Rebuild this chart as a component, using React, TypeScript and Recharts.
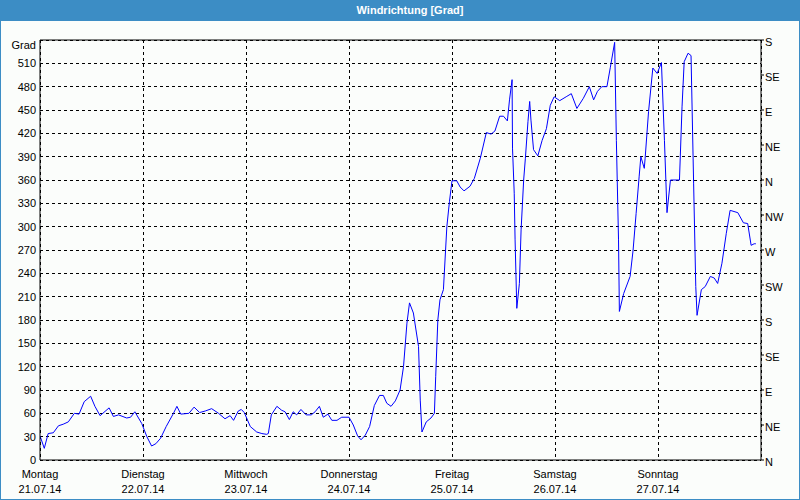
import React from 'react';
import { LineChart, Line, XAxis, YAxis, CartesianGrid, ReferenceLine } from 'recharts';

// hours since Monday 21.07.14 00:00
const hours = [
  0, 1.0, 1.9, 3.1, 4.3, 5.4, 6.6, 8.0, 9.1, 10.3, 11.8, 12.8, 14.0, 16.1, 17.1, 18.3, 20.2, 21.1, 22.1, 23.7,
  24.9, 26.0, 27.0, 28.1, 29.4, 31.1, 31.9, 32.8, 34.7, 35.9, 37.2, 38.5, 40.0, 41.6, 43.1, 44.3, 45.1, 46.2, 46.9, 47.6,
  49.0, 50.5, 51.7, 52.8, 53.2, 53.9, 55.2, 56.3, 57.1, 58.1, 59.0, 59.8, 60.8, 62.0, 63.2, 64.1, 65.1, 66.0, 67.1, 68.0,
  69.2, 70.3, 72.0, 73.0, 74.0, 74.8, 75.8, 76.8, 77.9, 79.1, 80.0, 80.8, 81.8, 82.8, 83.9, 84.7, 85.5, 86.1, 87.0, 88.2,
  88.6, 89.0, 90.0, 91.1, 91.9, 92.2, 92.7, 93.2, 94.0, 94.8, 95.4, 96.0, 97.1, 97.9, 98.8, 100.2, 101.2, 102.6, 104.0, 105.1,
  106.0, 107.1, 108.0, 108.9, 109.4, 110.0, 110.1, 110.5, 110.7, 111.1, 111.7, 112.1, 112.7, 113.1, 113.7, 114.1, 114.4, 115.0, 116.0, 117.0,
  118.0, 118.9, 119.8, 121.1, 122.6, 123.8, 125.1, 126.6, 128.0, 129.0, 129.9, 130.9, 132.1, 132.9, 133.9, 134.3, 134.8, 135.0, 136.0, 137.5,
  138.2, 138.9, 139.6, 140.0, 140.8, 141.0, 141.8, 142.8, 143.8, 144.8, 145.5, 146.1, 146.9, 149.0, 149.6, 150.1, 151.0, 151.7, 152.3, 152.8,
  153.1, 154.1, 155.0, 156.2, 157.1, 157.9, 158.9, 159.9, 160.8, 162.6, 163.9, 164.9, 165.7, 166.4, 166.8,
];

const degrees = [
  31, 15, 34, 35, 44, 46, 49, 60, 59, 75, 82, 69, 57, 67, 56, 58, 54, 55, 62, 47,
  30, 18, 21, 28, 43, 60, 69, 59, 60, 68, 61, 63, 66, 60, 53, 57, 51, 63, 65, 61,
  43, 36, 34, 33, 34, 58, 69, 64, 62, 52, 62, 58, 65, 58, 58, 62, 69, 55, 59, 51,
  51, 55, 55, 45, 31, 26, 32, 43, 70, 83, 83, 73, 69, 76, 90, 120, 176, 202, 189, 146,
  77, 36, 49, 54, 60, 107, 180, 206, 219, 300, 332, 359, 359, 351, 346, 352, 362, 388, 421, 419,
  423, 442, 442, 436, 463, 489, 401, 343, 283, 195, 227, 296, 360, 388, 435, 461, 437, 399, 391, 411,
  426, 456, 467, 462, 467, 471, 452, 465, 480, 463, 474, 480, 480, 505, 537, 411, 283, 191, 214, 236,
  270, 317, 364, 390, 375, 388, 448, 504, 497, 511, 411, 318, 360, 360, 454, 512, 523, 520, 356, 223,
  186, 219, 223, 236, 234, 227, 253, 291, 321, 318, 305, 304, 276, 278, 278,
];

const dayTicks = [0, 24, 48, 72, 96, 120, 144];
const dayNames = ['Montag', 'Dienstag', 'Mittwoch', 'Donnerstag', 'Freitag', 'Samstag', 'Sonntag'];
const dayDates = ['21.07.14', '22.07.14', '23.07.14', '24.07.14', '25.07.14', '26.07.14', '27.07.14'];
const degreeTicks = [0, 30, 60, 90, 120, 150, 180, 210, 240, 270, 300, 330, 360, 390, 420, 450, 480, 510];
const compassTicks = [0, 45, 90, 135, 180, 225, 270, 315, 360, 405, 450, 495, 540];
const compassLabels = ['N', 'NE', 'E', 'SE', 'S', 'SW', 'W', 'NW', 'N', 'NE', 'E', 'SE', 'S'];

const data = hours.map((h, i) => ({ h, v: degrees[i] }));

const FONT = '"Liberation Sans", Arial, sans-serif';

const DayTick = (props: any) => {
  const { x, payload } = props;
  const i = dayTicks.indexOf(payload.value);
  return (
    <g>
      <text x={x} y={478} textAnchor="middle" fontSize={11} fontFamily={FONT} fill="#000">
        {dayNames[i]}
      </text>
      <text x={x} y={493} textAnchor="middle" fontSize={11} fontFamily={FONT} fill="#000">
        {dayDates[i]}
      </text>
    </g>
  );
};

export default function App() {
  return (
    <div
      style={{
        position: 'absolute',
        left: 0,
        top: 0,
        width: 800,
        height: 500,
        background: '#fbfdfb',
        boxSizing: 'border-box',
        borderLeft: '1px solid #3c8dc5',
        borderRight: '1px solid #3c8dc5',
        borderBottom: '1px solid #3c8dc5',
        fontFamily: FONT,
        overflow: 'hidden',
      }}
    >
      <div
        style={{
          position: 'absolute',
          left: -1,
          top: 0,
          width: 800,
          height: 21,
          background: '#3c8dc5',
          color: '#fff',
          fontWeight: 'bold',
          fontSize: 11,
          lineHeight: '21px',
          textAlign: 'center',
          paddingLeft: 20,
          boxSizing: 'border-box',
        }}
      >
        Windrichtung [Grad]
      </div>
      <div
        style={{
          position: 'absolute',
          left: 0,
          top: 39,
          width: 35,
          textAlign: 'right',
          fontSize: 11,
          color: '#000',
        }}
      >
        Grad
      </div>
      <div style={{ position: 'absolute', left: -1, top: 0 }}>
        <LineChart width={800} height={500} data={data} margin={{ top: 40, right: 0, bottom: 0, left: 0 }}>
          <CartesianGrid
            yAxisId="left"
            stroke="#000"
            strokeDasharray="3 3"
            shapeRendering="crispEdges"
          />
          <XAxis
            dataKey="h"
            type="number"
            domain={[0, 168]}
            ticks={dayTicks}
            interval={0}
            height={40}
            axisLine={{ stroke: '#000' }}
            tickLine={false}
            tick={<DayTick />}
            allowDataOverflow
          />
          <YAxis
            yAxisId="left"
            orientation="left"
            width={40}
            domain={[0, 540]}
            ticks={degreeTicks}
            interval={0}
            axisLine={{ stroke: '#000' }}
            tickLine={false}
            tickSize={4}
            tickMargin={0}
            tick={{ fontSize: 11, fill: '#000', fontFamily: FONT }}
            allowDataOverflow
          />
          <YAxis
            yAxisId="right"
            orientation="right"
            width={39}
            domain={[0, 540]}
            ticks={compassTicks}
            interval={0}
            axisLine={{ stroke: '#000' }}
            tickLine={{ stroke: '#000' }}
            tickSize={3}
            tickMargin={1}
            tickFormatter={(v: number) => compassLabels[Math.round(v / 45)]}
            tick={{ fontSize: 11, fill: '#000', fontFamily: FONT, textAnchor: 'start', dy: 2 }}
            allowDataOverflow
          />
          <ReferenceLine yAxisId="left" y={540} stroke="#000" ifOverflow="visible" />
          <Line
            yAxisId="left"
            type="linear"
            dataKey="v"
            stroke="#0000ff"
            strokeWidth={1}
            dot={false}
            activeDot={false}
            isAnimationActive={false}
          />
        </LineChart>
      </div>
    </div>
  );
}
